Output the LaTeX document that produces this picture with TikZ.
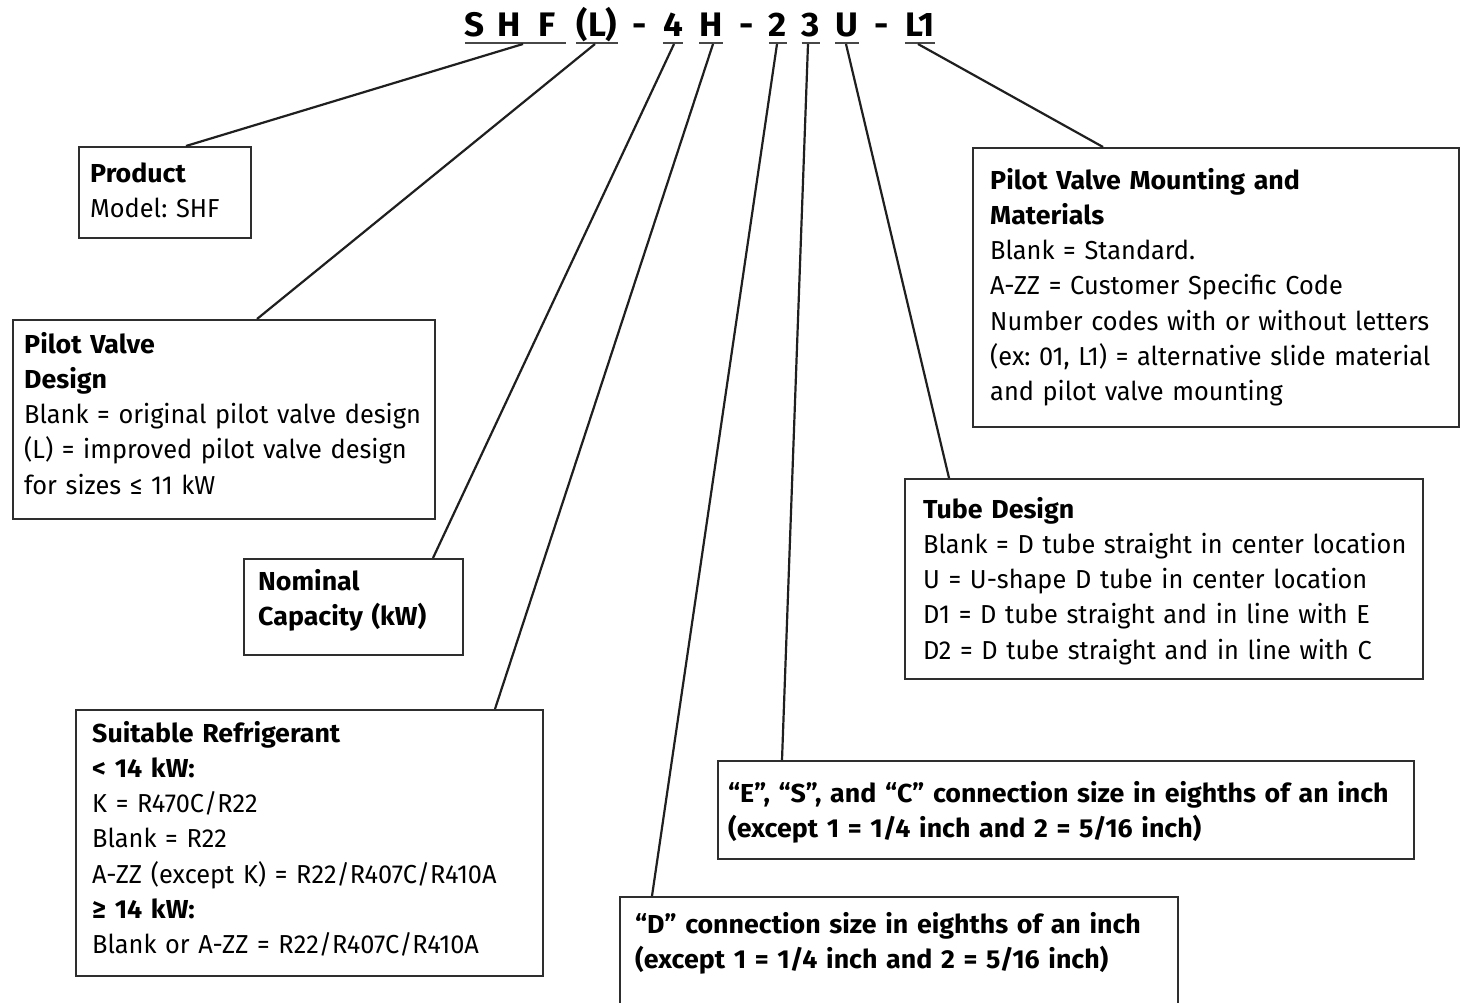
\documentclass[tikz,border=0pt]{standalone}
\usepackage{fontspec}
\setmainfont{Fira Sans}[UprightFeatures={FakeStretch=0.975}, BoldFeatures={FakeStretch=1.03}]
\frenchspacing
\begin{document}
\begin{tikzpicture}[x=1pt,y=-1pt]
\tikzset{
  box/.style={draw=black!82, line width=2pt, rectangle, inner sep=0pt, anchor=north west},
  txt/.style={anchor=north west, inner sep=0pt, align=left, text width=#1,
    font=\fontsize{26}{35.2}\selectfont\frenchspacing, execute at begin node=\strut},
  ttl/.style={anchor=base, inner sep=0pt, font=\fontsize{34}{40}\selectfont\bfseries},
  conn/.style={line width=2.2pt, draw=black!88},
  uline/.style={line width=2.4pt, draw=black!72},
}
\path[use as bounding box, fill=white] (0,0) rectangle (1461,1003);
\clip (0,0) rectangle (1461,1003);

% title
\node[ttl] (tS) at (475,37) {S};
\node[ttl] (tH) at (509,37) {H};
\node[ttl] (tF) at (547,37) {F};
\node[ttl] (tL) at (597,37) {(L)};
\node[ttl] (dA) at (640,37) {-};
\node[ttl] (tFour) at (673,37) {4};
\node[ttl] (tHH) at (711,37) {H};
\node[ttl] (dB) at (747,37) {-};
\node[ttl] (tTwo) at (778,37) {2};
\node[ttl] (tThree) at (811,37) {3};
\node[ttl] (tU) at (847,37) {U};
\node[ttl] (dC) at (882,37) {-};
\node[ttl] (tLOne) at (920,37) {L1};

\draw[uline] ([yshift=-6pt]tS.base west) -- ([xshift=10pt,yshift=-6pt]tF.base east);
\draw[uline] ([yshift=-6pt]tL.base west) -- ([yshift=-6pt]tL.base east);
\draw[uline] ([yshift=-6pt]tFour.base west) -- ([yshift=-6pt]tFour.base east);
\draw[uline] ([yshift=-6pt]tHH.base west) -- ([yshift=-6pt]tHH.base east);
\draw[uline] ([yshift=-6pt]tTwo.base west) -- ([yshift=-6pt]tTwo.base east);
\draw[uline] ([yshift=-6pt]tThree.base west) -- ([yshift=-6pt]tThree.base east);
\draw[uline] ([yshift=-6pt]tU.base west) -- ([yshift=-6pt]tU.base east);
\draw[uline] ([yshift=-6pt]tLOne.base west) -- ([yshift=-6pt]tLOne.base east);

% boxes
\node[box, minimum width=172pt, minimum height=91pt] (prod) at (78,146) {};
\node[box, minimum width=422pt, minimum height=199pt] (pvd) at (12,319) {};
\node[box, minimum width=219pt, minimum height=96pt] (nom) at (243,558) {};
\node[box, minimum width=467pt, minimum height=266pt] (suit) at (75,709) {};
\node[box, minimum width=486pt, minimum height=279pt] (pvm) at (972,147) {};
\node[box, minimum width=518pt, minimum height=200pt] (tube) at (904,478) {};
\node[box, minimum width=696pt, minimum height=98pt] (ebox) at (717,760) {};
\node[box, minimum width=558pt, minimum height=140pt] (dbox) at (619,896) {};

% texts
\node[txt=170pt] (prodT) at (90,157.4) {\textbf{Product}\\Model: SHF};
\node[txt=420pt] (pvdT) at (24,328.4) {\textbf{Pilot Valve}\\\textbf{Design}\\Blank = original pilot valve design\\(L) = improved pilot valve design\\for sizes ≤ 11 kW};
\node[txt=210pt] (nomT) at (258,565.4) {\textbf{Nominal}\\\textbf{Capacity (kW)}};
\node[txt=460pt] (suitT) at (92,717.4) {\textbf{Suitable Refrigerant}\\\textbf{< 14 kW:}\\K = R470C/R22\\Blank = R22\\A-ZZ (except K) = R22/R407C/R410A\\\textbf{≥ 14 kW:}\\Blank or A-ZZ = R22/R407C/R410A};
\node[txt=470pt] (pvmT) at (990,164.4) {\textbf{Pilot Valve Mounting and}\\\textbf{Materials}\\Blank = Standard.\\A-ZZ = Customer Specific Code\\Number codes with or without letters\\(ex: 01, L1) = alternative slide material\\and pilot valve mounting};
\node[txt=510pt] (tubeT) at (923,493.4) {\textbf{Tube Design}\\Blank = D tube straight in center location\\U = U-shape D tube in center location\\D1 = D tube straight and in line with E\\D2 = D tube straight and in line with C};
\node[txt=700pt] (eT) at (728,777.4) {\textbf{“E”, “S”, and “C” connection size in eighths of an inch}\\\textbf{(except 1 = 1/4 inch and 2 = 5/16 inch)}};
\node[txt=560pt] (dT) at (635,908.4) {\textbf{“D” connection size in eighths of an inch}\\\textbf{(except 1 = 1/4 inch and 2 = 5/16 inch)}};

% connectors
\draw[conn] ([xshift=14pt,yshift=-7pt]tH.base) -- ([xshift=108pt]prod.north west);
\draw[conn] ([xshift=-2pt,yshift=-7pt]tL.base) -- ([xshift=245pt]pvd.north west);
\draw[conn] ([xshift=1pt,yshift=-7pt]tFour.base) -- ([xshift=190pt]nom.north west);
\draw[conn] ([xshift=2pt,yshift=-7pt]tHH.base) -- ([xshift=420pt]suit.north west);
\draw[conn] ([xshift=-1pt,yshift=-7pt]tTwo.base) -- ([xshift=33pt]dbox.north west);
\draw[conn] ([xshift=-3pt,yshift=-7pt]tThree.base) -- ([xshift=65pt]ebox.north west);
\draw[conn] ([xshift=-1pt,yshift=-7pt]tU.base) -- ([xshift=45pt]tube.north west);
\draw[conn] ([xshift=-2pt,yshift=-7pt]tLOne.base) -- ([xshift=131pt]pvm.north west);
\end{tikzpicture}
\end{document}
